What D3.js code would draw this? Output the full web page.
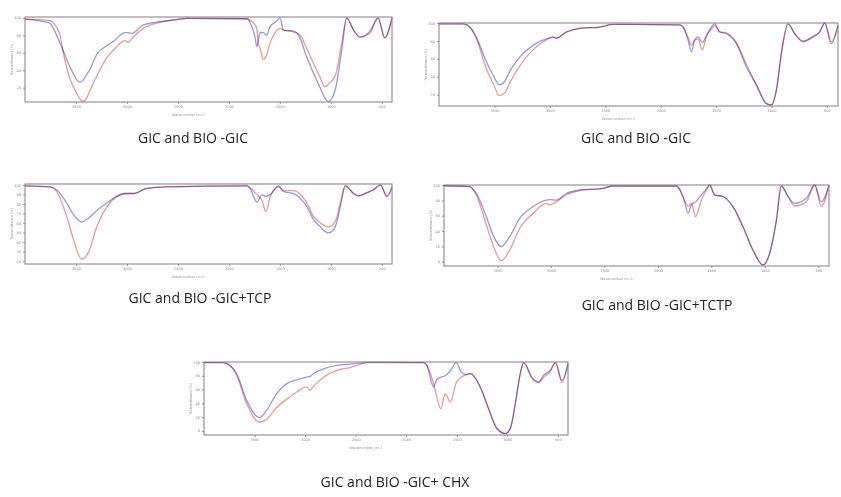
<!DOCTYPE html>
<html>
<head>
<meta charset="utf-8">
<script src="https://cdn.jsdelivr.net/npm/d3@7"></script>
<style>
  body { margin: 0; background: #fff; }
  .spec { mix-blend-mode: multiply; }
</style>
</head>
<body>
<div id="container"></div>
<script>
// DATA: FTIR spectra (transmittance, %)
const wavenumberTicks = [3500, 3000, 2500, 2000, 1500, 1000, 500];
const captions = [
  'GIC and BIO -GIC',
  'GIC and BIO -GIC',
  'GIC and BIO -GIC+TCP',
  'GIC and BIO -GIC+TCTP',
  'GIC and BIO -GIC+ CHX'
];

const wn1 = [4000, 3755, 3722, 3657, 3624, 3559, 3526, 3460, 3434, 3395, 3362, 3297, 3199, 3133, 3019, 2986, 2954, 2839, 2708, 2512, 2414, 1825, 1776, 1744, 1727, 1711, 1694, 1662, 1629, 1596, 1547, 1498, 1466, 1368, 1302, 1237, 1171, 1106, 1057, 1024, 958, 893, 844, 778, 713, 614, 537, 471, 400];
const gic1 = [98.5, 94, 88, 71, 62, 44, 36, 26, 28, 35, 41, 58, 68, 73, 83, 83, 82, 92, 95, 98, 99.5, 99, 90, 78, 67, 75, 83, 83, 80, 90, 95, 100, 86, 85, 77, 55, 37, 20, 8, 4, 17, 63, 100, 86, 78, 85, 100, 77, 100];
const bio1 = [98.5, 97, 94, 80, 60, 30, 21, 7, 4, 8, 17, 33, 54, 63, 74, 72, 76, 88, 94, 98, 99.5, 99, 96, 92, 88, 71, 65, 52, 58, 71, 83, 88, 86, 84, 80, 65, 48, 32, 21, 24, 33, 71, 100, 86, 78, 83, 100, 77, 100];
const yTicks1 = [100, 80, 60, 40, 20];

const wn2 = [4000, 3783, 3723, 3663, 3573, 3513, 3453, 3407, 3362, 3272, 3152, 3016, 2971, 2941, 2851, 2731, 2550, 2430, 1828, 1798, 1753, 1723, 1693, 1663, 1624, 1588, 1542, 1512, 1467, 1407, 1317, 1227, 1136, 1046, 1001, 956, 911, 851, 790, 715, 625, 565, 520, 460, 400];
const gic2 = [99, 99, 95.5, 84, 57, 42, 31, 35, 46, 62, 75, 83, 84.5, 83, 90, 94, 95.5, 98.5, 98, 95.5, 81, 68, 81, 84.5, 78, 86, 95.5, 99, 90, 88, 77, 51, 31, 10, 8.5, 25, 66, 99, 88, 79, 84.5, 90, 100, 77, 97];
const bio2 = [99, 99, 95.5, 83, 49, 33, 19, 22, 33, 52, 70, 82, 84, 83, 90, 94, 95.5, 98.5, 98, 95.5, 84, 75, 81, 82, 70, 84.5, 93, 97, 90, 89, 78, 54, 31, 10, 8.5, 25, 66, 99, 88, 80, 85, 90, 100, 79, 97];
const yTicks2 = [100, 80, 60, 40, 20];

const wn3 = [4000, 3755, 3689, 3591, 3525, 3444, 3378, 3296, 3198, 3100, 3018, 2936, 2805, 2609, 1823, 1791, 1725, 1676, 1637, 1594, 1512, 1463, 1365, 1234, 1169, 1103, 1022, 956, 907, 858, 776, 727, 645, 580, 514, 449, 400];
const gic3 = [99, 98, 95, 81, 69, 61, 65, 73, 81, 88, 91, 91, 96.5, 98, 99, 96, 82, 89.6, 88, 90, 99, 93, 91, 77, 63.5, 56, 49.6, 56.5, 77, 99, 91, 88.5, 92, 95, 100, 88, 98];
const bio3 = [99, 98, 93, 67, 43, 22, 29, 56, 77, 88, 91, 91, 96.5, 98, 99, 97, 89.6, 84, 72, 88, 98, 94, 94, 81, 67, 60, 56, 62, 81, 99, 91, 88.5, 92, 95, 100, 88, 98];
const yTicks3 = [100, 90, 80, 70, 60, 50, 40, 30, 20];

const wn4 = [4000, 3760, 3698, 3604, 3542, 3464, 3386, 3292, 3168, 3043, 3012, 2950, 2856, 2731, 2513, 2420, 1827, 1796, 1750, 1718, 1687, 1647, 1594, 1547, 1516, 1469, 1391, 1298, 1204, 1111, 1017, 955, 892, 846, 783, 721, 612, 534, 472, 400];
const gic4 = [99, 98, 89, 58.7, 35, 19.6, 32.6, 56.5, 71.7, 80.4, 81, 80.4, 89, 93.5, 95.7, 98.7, 98.7, 93.5, 78, 63, 74, 78, 87, 95, 100, 87, 85, 71.7, 45.6, 15, -4.3, 11, 54, 98.7, 85, 76, 82.6, 100, 78, 100];
const bio4 = [99, 98, 87, 48, 21.7, 1.3, 15, 43.5, 63, 76, 74, 78, 87, 92.6, 95.7, 98.7, 98.7, 95, 80, 72, 76, 58.7, 80, 93.5, 100, 87, 85, 71.7, 45.6, 15, -4.3, 11, 54, 98.7, 85, 72.6, 78, 100, 72, 100];
const yTicks4 = [100, 80, 60, 40, 20, 0];

const wn5 = [4000, 3809, 3743, 3677, 3578, 3452, 3380, 3281, 3182, 3083, 2984, 2951, 2918, 2819, 2687, 2555, 2456, 2390, 1829, 1796, 1730, 1697, 1657, 1614, 1565, 1505, 1465, 1416, 1367, 1268, 1185, 1103, 1020, 971, 921, 872, 839, 756, 690, 641, 575, 525, 459, 400];
const gic5 = [99, 99, 95, 83, 44.4, 19.3, 30, 54, 68.6, 74, 78, 79, 83, 90, 95, 97, 98.5, 99.5, 99, 95, 63.8, 75, 78, 80, 87, 99, 88, 82, 83, 63.8, 32, 3.4, -3.9, 3.4, 39.6, 83, 99, 78, 71, 80.7, 88, 99, 73.4, 97.6];
const bio5 = [99, 99, 95, 80.7, 39.6, 12.5, 17, 34, 46, 56.5, 63.8, 59, 64.7, 78, 88, 91.8, 96.6, 99, 99, 95, 68.6, 49, 32, 54, 42, 70, 77, 80.7, 83, 63.8, 32, 3.4, -3.9, 3.4, 39.6, 83, 99, 76, 70, 78, 86, 99, 70, 97.6];
const yTicks5 = [100, 80, 60, 40, 20, 0];

// LAYOUT (pixels) for each small plot
const panels = [
  {wn: wn1, gic: gic1, bio: bio1, ticks: yTicks1, yDomain: [3.5, 101], left: 25, top: 17, right: 392, bottom: 102, capX: 193, capY: 143},
  {wn: wn2, gic: gic2, bio: bio2, ticks: yTicks2, yDomain: [7.4, 100], left: 439, top: 23, right: 838, bottom: 106, capX: 636, capY: 143},
  {wn: wn3, gic: gic3, bio: bio3, ticks: yTicks3, yDomain: [17, 101], left: 25, top: 184, right: 392, bottom: 264, capX: 200, capY: 303},
  {wn: wn4, gic: gic4, bio: bio4, ticks: yTicks4, yDomain: [-5.6, 100], left: 444, top: 185, right: 829, bottom: 266, capX: 657, capY: 310},
  {wn: wn5, gic: gic5, bio: bio5, ticks: yTicks5, yDomain: [-6, 100], left: 204, top: 362, right: 568, bottom: 435, capX: 395, capY: 487}
];
panels.forEach((p, i) => p.caption = captions[i]);

const width = 841;
const height = 497;
const fmt = d3.format('d');

const svg = d3.select('#container')
  .append('svg')
  .attr('width', width)
  .attr('height', height)
  .attr('viewBox', [0, 0, width, height]);

function styleAxis(ax) {
  ax.select('.domain').remove();
  ax.selectAll('line').attr('stroke', '#999');
  ax.selectAll('text')
    .attr('font-size', 3.5)
    .attr('fill', '#888')
    .attr('font-family', 'DejaVu Sans');
}

function drawPanel(p) {
  const x = d3.scaleLinear([4000, 400], [p.left, p.right]);
  const y = d3.scaleLinear(p.yDomain, [p.bottom, p.top]);
  const g = svg.append('g');

  g.append('g')
    .attr('transform', `translate(0,${p.bottom})`)
    .call(d3.axisBottom(x).tickValues(wavenumberTicks).tickFormat(fmt).tickSize(2).tickPadding(2))
    .call(styleAxis);

  g.append('g')
    .attr('transform', `translate(${p.left},0)`)
    .call(d3.axisLeft(y).tickValues(p.ticks).tickFormat(fmt).tickSize(2).tickPadding(2))
    .call(styleAxis);

  // axis titles
  g.append('text')
    .attr('x', (p.left + p.right) / 2 - 20)
    .attr('y', p.bottom + 14)
    .attr('text-anchor', 'middle')
    .attr('font-size', 3.5)
    .attr('font-family', 'DejaVu Sans')
    .attr('fill', '#999')
    .text('Wavenumber cm-1');

  g.append('text')
    .attr('transform', `translate(${p.left - 12},${(p.top + p.bottom) / 2}) rotate(-90)`)
    .attr('text-anchor', 'middle')
    .attr('font-size', 3.5)
    .attr('font-family', 'DejaVu Sans')
    .attr('fill', '#999')
    .text('Transmittance [%]');

  const rows = p.wn.map((w, i) => ({w, gic: p.gic[i], bio: p.bio[i]}));

  const line = key => d3.line()
    .x(d => x(d.w))
    .y(d => y(d[key]))
    .curve(d3.curveMonotoneX);

  g.append('path')
    .datum(rows)
    .attr('class', 'spec')
    .attr('fill', 'none')
    .attr('stroke', '#eb9a9a')
    .attr('stroke-width', 1.3)
    .attr('d', line('bio'));

  g.append('path')
    .datum(rows)
    .attr('class', 'spec')
    .attr('fill', 'none')
    .attr('stroke', '#9898e4')
    .attr('stroke-width', 1.3)
    .attr('d', line('gic'));

  // plot frame
  g.append('rect')
    .attr('x', p.left)
    .attr('y', p.top)
    .attr('width', p.right - p.left)
    .attr('height', p.bottom - p.top)
    .attr('fill', 'none')
    .attr('stroke', '#808080')
    .attr('stroke-width', 1);

  svg.append('text')
    .attr('x', p.capX)
    .attr('y', p.capY)
    .attr('text-anchor', 'middle')
    .attr('font-family', 'Open Sans')
    .attr('font-size', 14)
    .attr('fill', '#222')
    .text(p.caption);
}

panels.forEach(drawPanel);
</script>
</body>
</html>
